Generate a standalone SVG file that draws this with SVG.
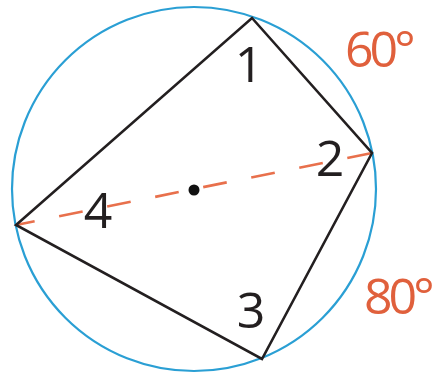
<svg xmlns="http://www.w3.org/2000/svg" width="438" height="375" viewBox="0 0 438 375">
  <style>
    .num { font-family: "Open Sans", "Noto Sans", sans-serif; font-size: 50px; fill: #231f20; }
    .arc { font-family: "Open Sans", "Noto Sans", sans-serif; font-size: 50px; fill: #e0603c; letter-spacing: -4px; }
  </style>
  <rect width="438" height="375" fill="#ffffff"/>
  <g id="circle">
    <circle cx="194" cy="189" r="182" fill="none" stroke="#2a9fd4" stroke-width="2.2"/>
  </g>
  <g id="connectors">
    <line x1="16" y1="225" x2="372" y2="153" stroke="#e8704c" stroke-width="2.6" stroke-dasharray="24 25" stroke-dashoffset="5"/>
    <polygon points="252,18 372,153 262,359 16,225" fill="none" stroke="#231f20" stroke-width="2.6" stroke-linejoin="miter"/>
  </g>
  <g id="center">
    <circle cx="194" cy="190" r="5.5" fill="#111111"/>
  </g>
  <g id="labels">
    <text class="num" x="249" y="82" text-anchor="middle">1</text>
    <text class="num" x="330" y="176" text-anchor="middle">2</text>
    <text class="num" x="251" y="328" text-anchor="middle">3</text>
    <text class="num" x="98" y="228" text-anchor="middle">4</text>
    <text class="arc" x="345" y="67">60°</text>
    <text class="arc" x="364" y="314">80°</text>
  </g>
</svg>
